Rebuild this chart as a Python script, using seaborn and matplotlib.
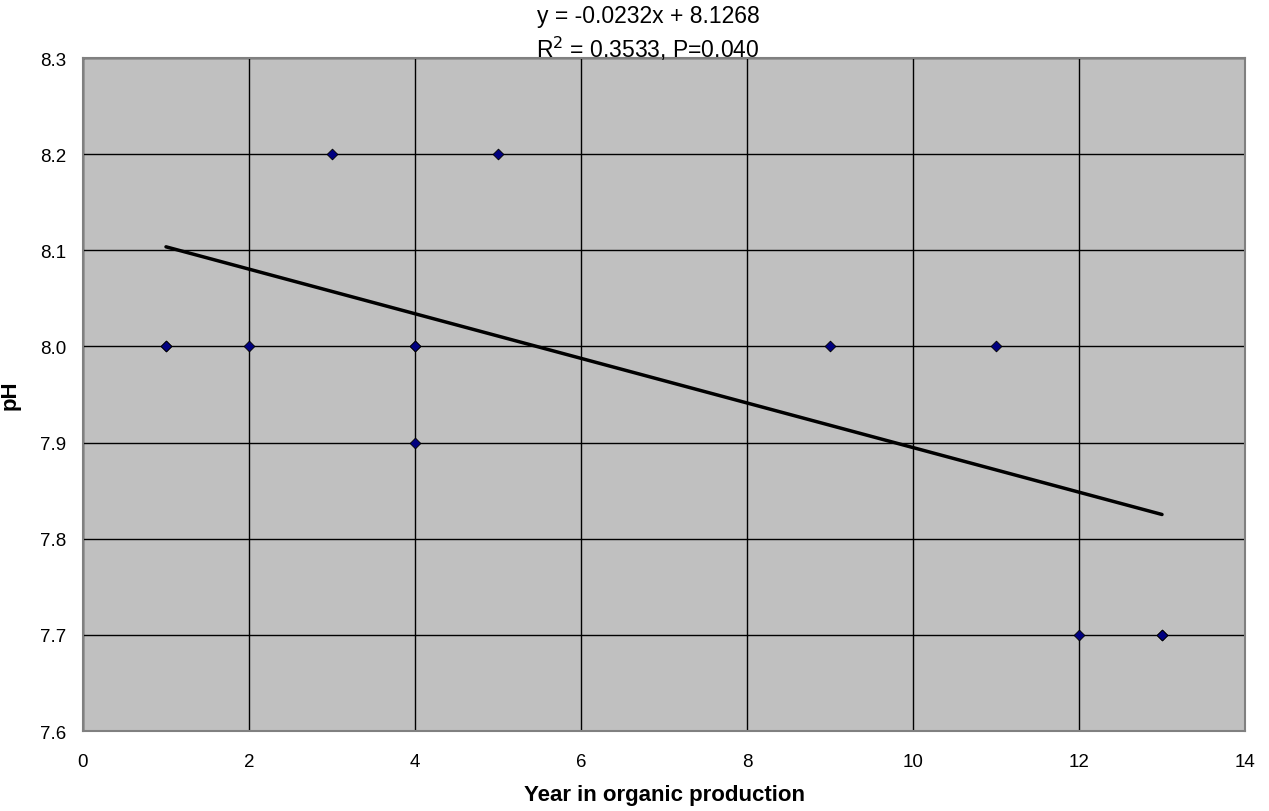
import matplotlib
matplotlib.use("Agg")
import matplotlib.pyplot as plt
import seaborn as sns
import numpy as np
import pandas as pd

years = [1, 1, 2, 3, 4, 4, 4, 5, 9, 11, 12, 13, 13]
ph = [8.0, 8.0, 8.0, 8.2, 8.0, 8.0, 7.9, 8.2, 8.0, 8.0, 7.7, 7.7, 7.7]
slope = -0.0232
intercept = 8.1268
fit_x = [1, 13]
eq_text = "y = -0.0232x + 8.1268"
r2_text = "R$^2$ = 0.3533, P=0.040"
x_ticks = [0, 2, 4, 6, 8, 10, 12, 14]
y_ticks = [7.6, 7.7, 7.8, 7.9, 8.0, 8.1, 8.2, 8.3]

sns.set_style("white")
plt.rcParams['font.family'] = ['Liberation Sans', 'DejaVu Sans']
plt.rcParams['text.color'] = 'black'
plt.rcParams['axes.labelcolor'] = 'black'

fig = plt.figure(figsize=(12.69, 8.12), dpi=100)
ax = fig.add_axes([83/1269, 1 - 732/812, (1245 - 83)/1269, (732 - 59)/812])
ax.set_facecolor('#c0c0c0')

df = pd.DataFrame({'x': years, 'y': ph})
fit = pd.DataFrame({'x': fit_x, 'y': [slope * v + intercept for v in fit_x]})

sns.lineplot(data=fit, x='x', y='y', ax=ax, color='black', linewidth=2.5, zorder=3)
sns.scatterplot(data=df, x='x', y='y', ax=ax, marker='D', s=30, color='#000080',
                edgecolor='black', linewidth=0.6, zorder=4)

ax.set_xlim(0, 14)
ax.set_ylim(7.6, 8.3)
ax.set_xticks(x_ticks)
ax.set_yticks(y_ticks)
ax.set_xticklabels([str(t) for t in x_ticks])
ax.set_yticklabels([f"{t:.1f}" for t in y_ticks])
ax.grid(True, color='black', linewidth=1)
ax.set_axisbelow(True)
for s in ax.spines.values():
    s.set_color('#808080')
    s.set_linewidth(1.5)
ax.tick_params(axis='both', direction='out', length=6, width=1.2, color='#808080',
               labelsize=13.5, labelcolor='black', pad=6)
ax.tick_params(axis='x', pad=10)
ax.set_xlabel('Year in organic production', fontsize=16, fontweight='bold', labelpad=10)
ax.set_ylabel('pH', fontsize=16, fontweight='bold', labelpad=14)

fig.text(648/1269, 1 - 17/812, eq_text, ha='center', va='center', fontsize=16.5)
fig.text(648/1269, 1 - 49/812, r2_text, ha='center', va='center', fontsize=16.5)

fig.savefig('out.png', dpi=100)
